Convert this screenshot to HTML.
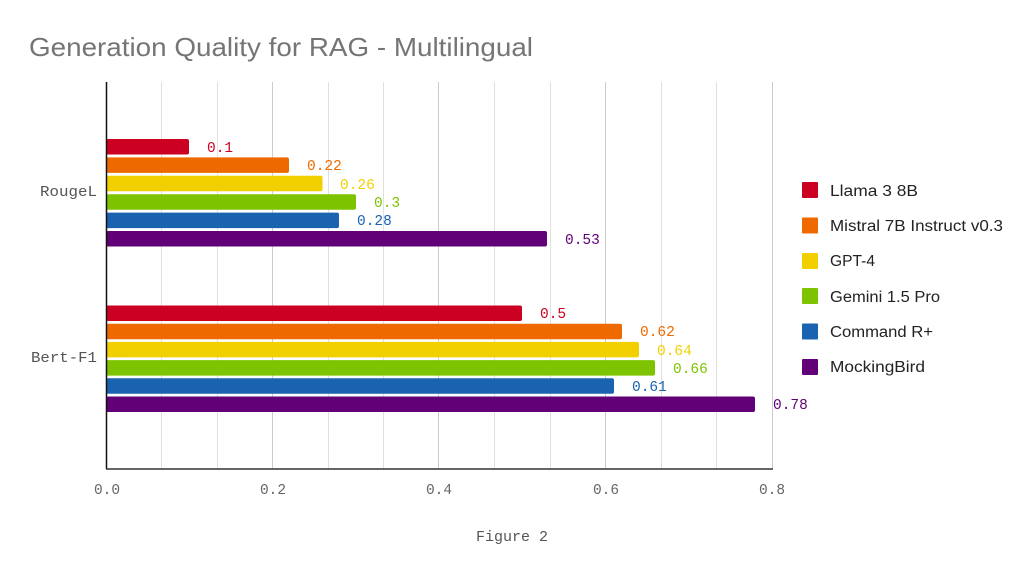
<!DOCTYPE html>
<html><head><style>
html,body{margin:0;padding:0;background:#fff;}
svg{display:block;}
.m{font-family:"Liberation Mono",monospace;font-size:14.5px;}
.s{font-family:"Liberation Sans",sans-serif;}
</style></head><body>
<svg width="1024" height="575" xmlns="http://www.w3.org/2000/svg">
<rect width="1024" height="575" fill="#fff"/>
<text x="29" y="56" class="s" font-size="26" fill="#757575" textLength="504" lengthAdjust="spacingAndGlyphs">Generation Quality for RAG - Multilingual</text>
<g stroke="#e0e0e0" stroke-width="1">
<line x1="161.5" y1="82" x2="161.5" y2="469"/><line x1="217.5" y1="82" x2="217.5" y2="469"/>
<line x1="328.5" y1="82" x2="328.5" y2="469"/><line x1="383.5" y1="82" x2="383.5" y2="469"/>
<line x1="494.5" y1="82" x2="494.5" y2="469"/><line x1="550.5" y1="82" x2="550.5" y2="469"/>
<line x1="661.5" y1="82" x2="661.5" y2="469"/><line x1="716.5" y1="82" x2="716.5" y2="469"/>
</g>
<g stroke="#cccccc" stroke-width="1">
<line x1="272.5" y1="82" x2="272.5" y2="469"/><line x1="438.5" y1="82" x2="438.5" y2="469"/>
<line x1="605.5" y1="82" x2="605.5" y2="469"/><line x1="772.5" y1="82" x2="772.5" y2="469"/>
</g>
<g>
<rect x="106" y="139" width="83" height="15.5" rx="2" fill="#cc0022"/>
<rect x="106" y="157.4" width="183" height="15.5" rx="2" fill="#ee6a00"/>
<rect x="106" y="175.8" width="216.5" height="15.5" rx="2" fill="#f2d000"/>
<rect x="106" y="194.2" width="250" height="15.5" rx="2" fill="#7ec300"/>
<rect x="106" y="212.6" width="233" height="15.5" rx="2" fill="#1a63b0"/>
<rect x="106" y="231" width="441" height="15.5" rx="2" fill="#620077"/>
<rect x="106" y="305.5" width="416" height="15.5" rx="2" fill="#cc0022"/>
<rect x="106" y="323.7" width="516" height="15.5" rx="2" fill="#ee6a00"/>
<rect x="106" y="341.9" width="533" height="15.5" rx="2" fill="#f2d000"/>
<rect x="106" y="360.1" width="549" height="15.5" rx="2" fill="#7ec300"/>
<rect x="106" y="378.3" width="508" height="15.5" rx="2" fill="#1a63b0"/>
<rect x="106" y="396.5" width="649" height="15.5" rx="2" fill="#620077"/>
</g>
<g class="m">
<text x="207" y="152" fill="#cc0022">0.1</text>
<text x="307" y="170" fill="#ee6a00">0.22</text>
<text x="340" y="189" fill="#f2d000">0.26</text>
<text x="374" y="207" fill="#7ec300">0.3</text>
<text x="357" y="225" fill="#1a63b0">0.28</text>
<text x="565" y="244" fill="#620077">0.53</text>
<text x="540" y="318" fill="#cc0022">0.5</text>
<text x="640" y="336" fill="#ee6a00">0.62</text>
<text x="657" y="355" fill="#f2d000">0.64</text>
<text x="673" y="373" fill="#7ec300">0.66</text>
<text x="632" y="391" fill="#1a63b0">0.61</text>
<text x="773" y="409" fill="#620077">0.78</text>
</g>
<line x1="106.5" y1="82" x2="106.5" y2="469" stroke="#111" stroke-width="1.5"/>
<line x1="106" y1="469" x2="773" y2="469" stroke="#333" stroke-width="1.5"/>
<g class="m" fill="#555" text-anchor="end">
<text x="97" y="196" textLength="57" lengthAdjust="spacingAndGlyphs">RougeL</text>
<text x="97" y="362" textLength="66" lengthAdjust="spacingAndGlyphs">Bert-F1</text>
</g>
<g class="m" fill="#666" text-anchor="middle" font-size="14">
<text x="107" y="494">0.0</text><text x="273" y="494">0.2</text>
<text x="439" y="494">0.4</text><text x="606" y="494">0.6</text><text x="772" y="494">0.8</text>
<text x="512" y="541" font-size="15" fill="#555">Figure 2</text>
</g>
<g>
<rect x="802" y="182" width="16" height="16" rx="1" fill="#cc0022"/>
<rect x="802" y="217.5" width="16" height="16" rx="1" fill="#ee6a00"/>
<rect x="802" y="253" width="16" height="16" rx="1" fill="#f2d000"/>
<rect x="802" y="288" width="16" height="16" rx="1" fill="#7ec300"/>
<rect x="802" y="323.5" width="16" height="16" rx="1" fill="#1a63b0"/>
<rect x="802" y="359" width="16" height="16" rx="1" fill="#620077"/>
</g>
<g class="s" font-size="15.5" fill="#222">
<text x="830" y="196" textLength="88" lengthAdjust="spacingAndGlyphs">Llama 3 8B</text>
<text x="830" y="231" textLength="173" lengthAdjust="spacingAndGlyphs">Mistral 7B Instruct v0.3</text>
<text x="830" y="266" textLength="45" lengthAdjust="spacingAndGlyphs">GPT-4</text>
<text x="830" y="302" textLength="110" lengthAdjust="spacingAndGlyphs">Gemini 1.5 Pro</text>
<text x="830" y="337" textLength="103" lengthAdjust="spacingAndGlyphs">Command R+</text>
<text x="830" y="372" textLength="95" lengthAdjust="spacingAndGlyphs">MockingBird</text>
</g>
</svg>
</body></html>
